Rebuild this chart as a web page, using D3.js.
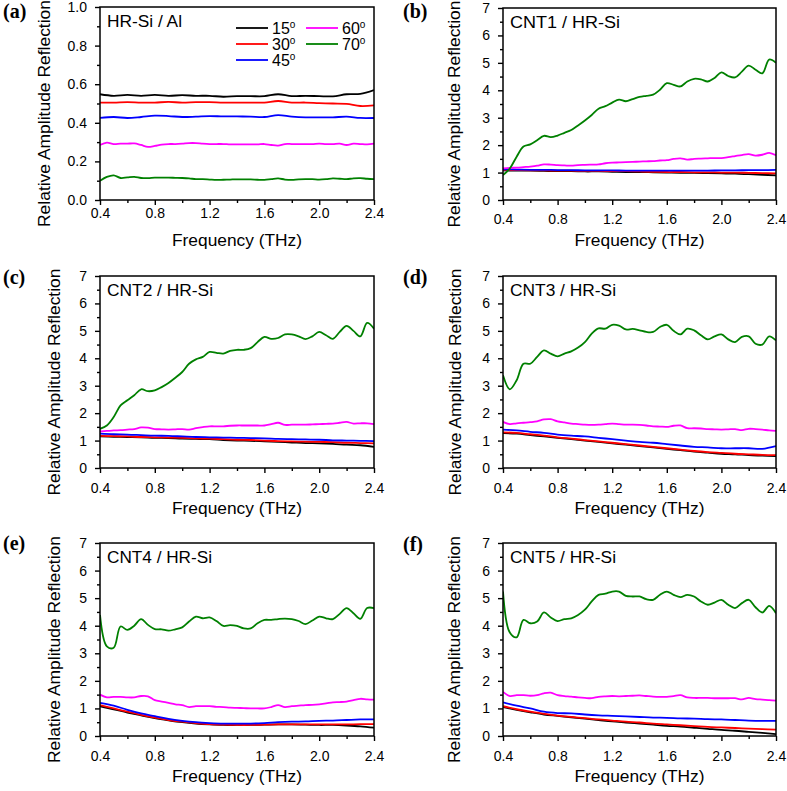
<!DOCTYPE html>
<html><head><meta charset="utf-8">
<script src="https://cdn.jsdelivr.net/npm/d3@7"></script>
<style>body{margin:0;background:#fff}</style>
</head><body>
<svg id="c" width="787" height="791"></svg>
<script>
// ---------- shared axes data ----------
const freqFine = [0.40,0.45,0.50,0.55,0.60,0.65,0.70,0.75,0.80,0.85,0.90,0.95,1.00,1.05,1.10,1.15,1.20,1.25,1.30,1.35,1.40,1.45,1.50,1.55,1.60,1.65,1.70,1.75,1.80,1.85,1.90,1.95,2.00,2.05,2.10,2.15,2.20,2.25,2.30,2.35,2.40];
const freqCoarse = [0.4,0.5,0.6,0.7,0.8,0.9,1.0,1.1,1.2,1.3,1.4,1.5,1.6,1.7,1.8,1.9,2.0,2.1,2.2,2.3,2.4];
const xTicks = [0.4,0.8,1.2,1.6,2.0,2.4];
const xMinor = [0.6,1.0,1.4,1.8,2.2];
const yTicksA = [0,0.2,0.4,0.6,0.8,1.0];
const yMinorA = [0.1,0.3,0.5,0.7,0.9];
const yTicksB = [0,1,2,3,4,5,6,7];
const yMinorB = [0.5,1.5,2.5,3.5,4.5,5.5,6.5];
const angles = ["15","30","45","60","70"];
const colors = ["#000000","#ff0000","#0000ff","#ff00ff","#008000"];
const panelLabels = ["(a)","(b)","(c)","(d)","(e)","(f)"];
const panelNames = ["HR-Si / Al","CNT1 / HR-Si","CNT2 / HR-Si","CNT3 / HR-Si","CNT4 / HR-Si","CNT5 / HR-Si"];

// ---------- (a) HR-Si / Al ----------
const aBlack = [0.548,0.540,0.545,0.540,0.545,0.540,0.543,0.540,0.540,0.535,0.538,0.538,0.538,0.548,0.538,0.540,0.538,0.537,0.548,0.550,0.570];
const aRed   = [0.505,0.505,0.507,0.505,0.505,0.508,0.505,0.507,0.507,0.505,0.505,0.505,0.505,0.513,0.505,0.505,0.502,0.500,0.498,0.487,0.490];
const aBlue  = [0.425,0.430,0.425,0.430,0.437,0.435,0.430,0.432,0.435,0.433,0.433,0.432,0.430,0.440,0.432,0.428,0.428,0.428,0.432,0.425,0.425];
const aMagenta = [0.285,0.297,0.290,0.292,0.292,0.293,0.285,0.275,0.280,0.287,0.290,0.290,0.292,0.295,0.295,0.292,0.290,0.290,0.290,0.288,0.288,0.288,0.288,0.288,0.290,0.285,0.282,0.290,0.290,0.290,0.290,0.290,0.292,0.290,0.290,0.292,0.285,0.292,0.290,0.288,0.292];
const aGreen = [0.100,0.120,0.128,0.114,0.117,0.120,0.114,0.113,0.116,0.116,0.116,0.115,0.114,0.112,0.108,0.108,0.106,0.104,0.105,0.106,0.107,0.107,0.107,0.105,0.104,0.108,0.112,0.106,0.104,0.107,0.108,0.108,0.106,0.108,0.112,0.110,0.108,0.112,0.113,0.110,0.108];

// ---------- (b) CNT1 ----------
const bBlack = [1.08,1.07,1.07,1.06,1.05,1.05,1.04,1.04,1.03,1.02,1.02,1.01,1.00,0.99,0.99,0.98,0.97,0.96,0.94,0.92,0.90];
const bRed   = [1.10,1.09,1.08,1.08,1.07,1.07,1.06,1.06,1.05,1.05,1.04,1.03,1.02,1.02,1.01,1.01,1.00,1.00,0.99,0.98,0.97];
const bBlue  = [1.12,1.11,1.10,1.10,1.09,1.09,1.08,1.08,1.08,1.07,1.07,1.07,1.07,1.07,1.07,1.07,1.08,1.08,1.09,1.09,1.10];
const bMagenta = [1.15,1.17,1.18,1.20,1.22,1.25,1.30,1.29,1.27,1.26,1.25,1.27,1.28,1.29,1.30,1.34,1.36,1.37,1.38,1.39,1.40,1.41,1.42,1.44,1.45,1.50,1.52,1.47,1.50,1.51,1.52,1.53,1.53,1.56,1.60,1.64,1.67,1.62,1.65,1.72,1.63];
const bGreen = [0.91,1.15,1.58,1.95,2.03,2.18,2.34,2.29,2.35,2.45,2.55,2.72,2.90,3.10,3.33,3.42,3.55,3.66,3.60,3.68,3.76,3.80,3.84,4.02,4.26,4.20,4.14,4.32,4.42,4.40,4.32,4.45,4.65,4.52,4.47,4.68,4.90,4.75,4.62,5.12,5.00];

// ---------- (c) CNT2 ----------
const cBlack = [1.15,1.14,1.13,1.12,1.10,1.09,1.07,1.06,1.05,1.02,1.00,0.99,0.97,0.95,0.93,0.91,0.90,0.88,0.85,0.83,0.77];
const cRed   = [1.17,1.16,1.15,1.13,1.12,1.11,1.10,1.08,1.07,1.05,1.03,1.02,1.00,0.98,0.97,0.96,0.95,0.94,0.92,0.91,0.90];
const cBlue  = [1.25,1.23,1.22,1.20,1.18,1.17,1.15,1.13,1.12,1.11,1.10,1.09,1.08,1.06,1.05,1.04,1.03,1.01,1.00,0.99,0.98];
const cMagenta = [1.33,1.35,1.37,1.38,1.40,1.42,1.48,1.47,1.42,1.41,1.40,1.41,1.42,1.40,1.45,1.49,1.52,1.52,1.52,1.54,1.55,1.55,1.55,1.55,1.55,1.60,1.65,1.57,1.58,1.58,1.58,1.59,1.60,1.61,1.62,1.65,1.68,1.62,1.63,1.63,1.60];
const cGreen = [1.43,1.55,1.86,2.28,2.47,2.65,2.87,2.80,2.83,2.95,3.10,3.29,3.50,3.80,3.96,4.05,4.23,4.20,4.17,4.27,4.31,4.31,4.37,4.59,4.78,4.71,4.74,4.87,4.87,4.80,4.70,4.80,4.96,4.84,4.71,4.96,5.18,5.00,4.80,5.29,5.08];

// ---------- (d) CNT3 ----------
const dBlack = [1.27,1.25,1.20,1.15,1.10,1.05,1.00,0.95,0.90,0.85,0.80,0.75,0.70,0.65,0.60,0.56,0.52,0.50,0.47,0.45,0.43];
const dRed   = [1.30,1.28,1.23,1.18,1.12,1.07,1.02,0.97,0.92,0.87,0.82,0.77,0.72,0.67,0.62,0.58,0.55,0.52,0.50,0.48,0.47];
const dBlue  = [1.40,1.37,1.32,1.28,1.22,1.18,1.15,1.10,1.05,1.00,0.95,0.92,0.87,0.82,0.77,0.75,0.72,0.72,0.72,0.70,0.80];
const dMagenta = [1.68,1.60,1.63,1.65,1.67,1.70,1.77,1.78,1.70,1.66,1.62,1.60,1.58,1.57,1.58,1.60,1.62,1.60,1.58,1.58,1.57,1.55,1.52,1.51,1.50,1.54,1.55,1.45,1.45,1.44,1.42,1.41,1.40,1.41,1.42,1.38,1.43,1.42,1.40,1.37,1.35];
const dGreen = [3.38,2.87,3.20,3.80,3.80,4.05,4.29,4.17,4.07,4.17,4.25,4.39,4.59,4.90,5.09,5.08,5.22,5.19,5.05,5.07,5.02,4.96,4.96,5.14,5.22,5.00,4.87,5.08,5.02,4.84,4.69,4.80,4.87,4.69,4.59,4.78,4.80,4.53,4.50,4.80,4.65];

// ---------- (e) CNT4 ----------
const eBlack = [1.08,0.97,0.85,0.75,0.65,0.57,0.50,0.45,0.42,0.40,0.40,0.40,0.41,0.42,0.42,0.41,0.40,0.40,0.38,0.35,0.30];
const eRed   = [1.12,1.00,0.88,0.77,0.67,0.58,0.52,0.47,0.43,0.41,0.40,0.40,0.41,0.42,0.42,0.42,0.42,0.42,0.42,0.43,0.43];
const eBlue  = [1.20,1.10,0.95,0.82,0.72,0.62,0.55,0.50,0.47,0.45,0.45,0.45,0.47,0.50,0.52,0.53,0.55,0.56,0.58,0.60,0.60];
const eMagenta = [1.50,1.40,1.42,1.42,1.40,1.40,1.45,1.44,1.30,1.25,1.20,1.15,1.12,1.05,1.08,1.08,1.08,1.06,1.05,1.03,1.02,1.01,1.00,1.00,1.00,1.05,1.12,1.05,1.08,1.10,1.12,1.13,1.15,1.18,1.22,1.23,1.25,1.30,1.35,1.33,1.32];
const eGreen = [4.39,3.25,3.20,3.97,3.85,4.00,4.24,4.03,3.88,3.87,3.82,3.87,3.94,4.15,4.33,4.27,4.30,4.17,3.99,4.02,3.99,3.90,3.90,4.09,4.21,4.21,4.24,4.26,4.24,4.17,4.06,4.19,4.33,4.27,4.24,4.43,4.64,4.45,4.25,4.64,4.64];

// ---------- (f) CNT5 ----------
const fBlack = [1.05,0.95,0.86,0.78,0.73,0.68,0.63,0.58,0.53,0.49,0.45,0.41,0.37,0.34,0.30,0.26,0.22,0.19,0.15,0.11,0.07];
const fRed   = [1.08,0.97,0.88,0.80,0.74,0.69,0.65,0.60,0.56,0.52,0.49,0.45,0.42,0.39,0.36,0.33,0.31,0.29,0.27,0.25,0.23];
const fBlue  = [1.22,1.10,1.00,0.88,0.83,0.82,0.78,0.75,0.73,0.71,0.69,0.67,0.66,0.64,0.63,0.61,0.60,0.58,0.56,0.55,0.55];
const fMagenta = [1.60,1.45,1.48,1.48,1.46,1.48,1.55,1.57,1.48,1.45,1.43,1.40,1.38,1.37,1.42,1.44,1.45,1.44,1.45,1.46,1.47,1.45,1.43,1.42,1.42,1.45,1.48,1.40,1.38,1.38,1.38,1.37,1.37,1.37,1.37,1.33,1.38,1.34,1.32,1.30,1.28];
const fGreen = [5.24,3.75,3.58,4.21,4.09,4.15,4.48,4.30,4.17,4.24,4.27,4.39,4.58,4.88,5.12,5.16,5.24,5.24,5.08,5.06,5.06,4.96,4.94,5.12,5.24,5.12,5.04,5.12,5.06,4.88,4.76,4.84,4.94,4.76,4.64,4.82,4.94,4.67,4.48,4.72,4.45];

// ---------- layout ----------
const svg = d3.select("#c");
svg.append("rect").attr("width",787).attr("height",791).attr("fill","#fff");
const SANS = "'Liberation Sans', Arial, sans-serif";

const panels = [
  {x0:100,x1:374,y0:7,  y1:200, dom:[0,1], yt:yTicksA, ym:yMinorA, fmt:d3.format(".1f"), data:[aBlack,aRed,aBlue,aMagenta,aGreen], tX:44,  lX:3,   lY:18,  tickOff:3, nameW:75},
  {x0:503,x1:776,y0:8,  y1:200, dom:[0,7], yt:yTicksB, ym:yMinorB, fmt:d3.format("d"),   data:[bBlack,bRed,bBlue,bMagenta,bGreen], tX:454, lX:403, lY:18,  tickOff:9, nameW:110},
  {x0:100,x1:374,y0:276,y1:468, dom:[0,7], yt:yTicksB, ym:yMinorB, fmt:d3.format("d"),   data:[cBlack,cRed,cBlue,cMagenta,cGreen], tX:54,  lX:3,   lY:284, tickOff:10, nameW:106},
  {x0:503,x1:776,y0:276,y1:468, dom:[0,7], yt:yTicksB, ym:yMinorB, fmt:d3.format("d"),   data:[dBlack,dRed,dBlue,dMagenta,dGreen], tX:455, lX:403, lY:284, tickOff:10, nameW:106},
  {x0:100,x1:374,y0:543,y1:736, dom:[0,7], yt:yTicksB, ym:yMinorB, fmt:d3.format("d"),   data:[eBlack,eRed,eBlue,eMagenta,eGreen], tX:54,  lX:3,   lY:550, tickOff:10, nameW:105},
  {x0:503,x1:776,y0:543,y1:736, dom:[0,7], yt:yTicksB, ym:yMinorB, fmt:d3.format("d"),   data:[fBlack,fRed,fBlue,fMagenta,fGreen], tX:454, lX:403, lY:551, tickOff:10, nameW:106}
];

panels.forEach((p, i) => {
  const x = d3.scaleLinear().domain([0.4, 2.4]).range([p.x0, p.x1]);
  const y = d3.scaleLinear().domain(p.dom).range([p.y1, p.y0]);
  const g = svg.append("g");

  const clipId = "clip" + i;
  svg.append("clipPath").attr("id", clipId).append("rect")
    .attr("x", p.x0).attr("y", p.y0).attr("width", p.x1 - p.x0).attr("height", p.y1 - p.y0);

  // lines
  const lines = g.append("g").attr("clip-path", `url(#${clipId})`);
  p.data.forEach((vals, k) => {
    const xs = vals.length === freqFine.length ? freqFine : freqCoarse;
    const pts = vals.map((v, j) => [xs[j], v]);
    const line = d3.line().x(d => x(d[0])).y(d => y(d[1])).curve(d3.curveCatmullRom.alpha(0.5));
    lines.append("path").attr("d", line(pts)).attr("fill", "none")
      .attr("stroke", colors[k]).attr("stroke-width", 1.8).attr("stroke-linejoin", "round");
  });

  // axes
  const xAx = g.append("g").attr("transform", `translate(0,${p.y1})`)
    .call(d3.axisBottom(x).tickValues(xTicks).tickSize(5).tickPadding(p.tickOff).tickFormat(d3.format(".1f")));
  const xAxM = g.append("g").attr("transform", `translate(0,${p.y1})`)
    .call(d3.axisBottom(x).tickValues(xMinor).tickSize(3).tickFormat(""));
  const yAx = g.append("g").attr("transform", `translate(${p.x0},0)`)
    .call(d3.axisLeft(y).tickValues(p.yt).tickSize(5).tickPadding(8).tickFormat(p.fmt));
  const yAxM = g.append("g").attr("transform", `translate(${p.x0},0)`)
    .call(d3.axisLeft(y).tickValues(p.ym).tickSize(3).tickFormat(""));
  [xAx, xAxM, yAx, yAxM].forEach(a => {
    a.select(".domain").remove();
    a.selectAll("line").attr("stroke", "#000").attr("stroke-width", 1.4);
    a.selectAll("text").attr("font-family", SANS).attr("font-size", 14).attr("fill", "#000");
  });

  // frame
  g.append("rect").attr("x", p.x0).attr("y", p.y0).attr("width", p.x1 - p.x0).attr("height", p.y1 - p.y0)
    .attr("fill", "none").attr("stroke", "#000").attr("stroke-width", 1.5);

  // titles
  g.append("text").attr("x", (p.x0 + p.x1) / 2).attr("y", p.y1 + 46)
    .attr("text-anchor", "middle").attr("font-family", SANS).attr("font-size", 16)
    .attr("textLength", 130).attr("lengthAdjust", "spacingAndGlyphs").text("Frequency (THz)");
  g.append("text").attr("transform", `translate(${p.tX},${(p.y0 + p.y1) / 2 + 10}) rotate(-90)`)
    .attr("dy", "0.35em").attr("text-anchor", "middle").attr("font-family", SANS).attr("font-size", 17)
    .attr("textLength", 227).attr("lengthAdjust", "spacingAndGlyphs")
    .text("Relative Amplitude Reflection");
  g.append("text").attr("x", p.lX).attr("y", p.lY).attr("font-family", "'Liberation Serif', 'Times New Roman', serif")
    .attr("font-weight", "bold").attr("font-size", 20).text(panelLabels[i]);
  g.append("text").attr("x", p.x0 + 7).attr("y", p.y0 + 20).attr("font-family", SANS)
    .attr("font-size", 16).attr("textLength", p.nameW).attr("lengthAdjust", "spacingAndGlyphs").text(panelNames[i]);

  // legend (panel a only)
  if (i === 0) {
    const pos = [[236, 28], [236, 44], [236, 60], [306, 28], [306, 44]];
    angles.forEach((a, k) => {
      const [lx, ly] = pos[k];
      g.append("line").attr("x1", lx).attr("x2", lx + 32).attr("y1", ly).attr("y2", ly)
        .attr("stroke", colors[k]).attr("stroke-width", 1.8);
      const t = g.append("text").attr("x", lx + 36).attr("y", ly + 5.5)
        .attr("font-family", SANS).attr("font-size", 16).text(a);
      t.append("tspan").attr("font-size", 10).attr("dy", -6).text("o");
    });
  }
});
</script>
</body></html>
